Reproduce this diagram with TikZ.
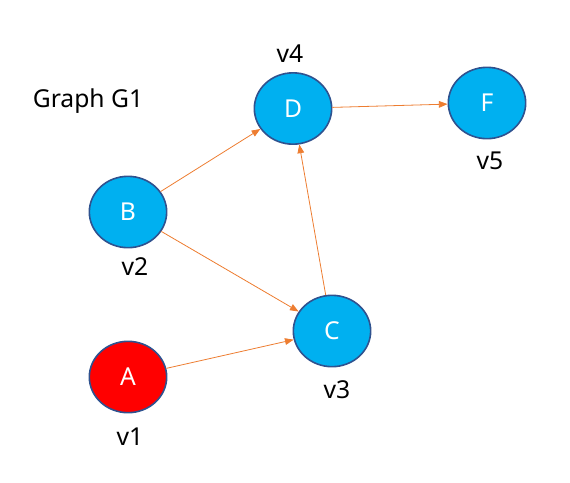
\documentclass[tikz,border=0pt]{standalone}
\usepackage{fontspec}
\setmainfont{Noto Sans}
\usetikzlibrary{shapes.geometric,arrows.meta}
\definecolor{nodeblue}{HTML}{00B0F0}
\definecolor{nodered}{HTML}{FF0000}
\definecolor{edgeblue}{HTML}{2F528F}
\definecolor{arrowc}{HTML}{ED7D31}
\begin{document}
\begin{tikzpicture}[x=0.75pt,y=-0.75pt,
  vert/.style={ellipse,draw=edgeblue,line width=1.2pt,fill=nodeblue,minimum width=58pt,minimum height=53.5pt,inner sep=0pt,text=white,font=\fontsize{18.5}{22}\selectfont},
  lbl/.style={font=\fontsize{18.5}{22}\selectfont,inner sep=0pt},
  arr/.style={draw=arrowc,line width=0.6pt,-{Triangle[length=6.5pt,width=5pt]}}]
\useasboundingbox (0,0) rectangle (570,482);
\node[vert,fill=nodered] (A) at (128,377) {A};
\node[vert] (B) at (128,212) {B};
\node[vert] (C) at (332,331) {C};
\node[vert] (D) at (293,108.5) {D};
\node[vert] (F) at (487,103) {F};
\node[lbl] (t) at (88,101) {Graph G1};
\node[lbl] (l1) at (130,437) {v1};
\node[lbl] (l2) at (135,267) {v2};
\node[lbl] (l3) at (337,390) {v3};
\node[lbl] (l4) at (290,54) {v4};
\node[lbl] (l5) at (490,161) {v5};
\draw[arr] (A) -- (C);
\draw[arr] (B) -- (C);
\draw[arr] (B) -- (D);
\draw[arr] (C) -- (D);
\draw[arr] (D) -- (F);
\end{tikzpicture}
\end{document}
